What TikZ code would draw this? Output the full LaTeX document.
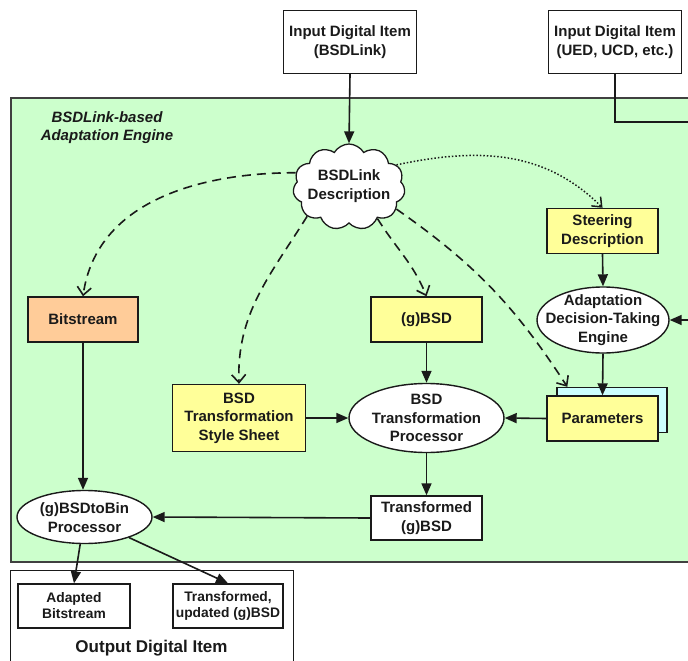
\documentclass[tikz,border=0pt]{standalone}
\usepackage{fontspec}
\setmainfont{Liberation Sans}
\usetikzlibrary{shapes.geometric,shapes.symbols,arrows.meta,calc}
\definecolor{engine}{HTML}{CCFFCC}
\definecolor{ylw}{HTML}{FFFF99}
\definecolor{orng}{HTML}{FFCC99}
\definecolor{cyn}{HTML}{CCFFFF}
\definecolor{ink}{HTML}{1A1A1A}
\definecolor{frame}{HTML}{404040}
\begin{document}
\begin{tikzpicture}[x=1pt,y=-1pt,
  font=\bfseries\fontsize{15}{18.5}\selectfont,
  box/.style={draw=ink, line width=1.4pt, rectangle, align=center, inner sep=0pt, text=ink},
  ybox/.style={box, fill=ylw},
  wbox/.style={box, fill=white},
  ell/.style={draw=ink, line width=1.4pt, ellipse, fill=white, inner sep=0pt},
  txt/.style={align=center, inner sep=0pt, text=ink},
  smalltxt/.style={font=\bfseries\fontsize{13.8}{16}\selectfont},
  arr/.style={line width=1.6pt, draw=ink, -{Triangle[length=12pt,width=10pt]}},
  darr/.style={line width=1.6pt, draw=ink, dash pattern=on 9pt off 6pt, -{Straight Barb[length=8pt,width=14pt]}},
  dotarr/.style={line width=1.5pt, draw=ink, dash pattern=on 1.5pt off 2pt, -{Straight Barb[length=8pt,width=13pt]}}
]
\useasboundingbox (0,0) rectangle (688,661);
\fill[white] (0,0) rectangle (688,661);
\clip (0,0) rectangle (688,661);

% containers
\node[draw=frame, line width=1.8pt, fill=engine, anchor=north west, minimum width=710, minimum height=464, inner sep=0pt] (engine) at (10,97) {};
\node[draw=ink, line width=1.4pt, fill=white, anchor=north west, minimum width=283, minimum height=120, inner sep=0pt] (outbox) at (10,570) {};

\node[txt, font=\bfseries\itshape\fontsize{15}{18.5}\selectfont] (title) at (107,127.5) {BSDLink-based\\Adaptation Engine};
\node[txt, font=\bfseries\fontsize{17}{20}\selectfont] (outlabel) at (151.5,648) {Output Digital Item};

% inputs
\node[wbox, minimum width=133, minimum height=63] (in1) at (350,42) {Input Digital Item\\(BSDLink)};
\node[wbox, minimum width=133, minimum height=63] (in2) at (615,42) {Input Digital Item\\(UED, UCD, etc.)};

% cloud
\node[cloud, cloud puffs=11, cloud puff arc=120, cloud ignores aspect, draw=ink, line width=1.3pt, fill=white, minimum width=112, minimum height=86, inner sep=0pt] (cloud) at (349,187) {};
\node[txt] (cloudt) at (349,186) {BSDLink\\Description};

% right column
\node[ybox, minimum width=111, minimum height=45] (steer) at (602.5,231) {Steering\\Description};
\node[ell, minimum width=132, minimum height=66] (adte) at (603,320) {};
\node[txt] (adtet) at (603,320) {Adaptation\\Decision-Taking\\Engine};
\node[box, fill=cyn, minimum width=110, minimum height=45] (pback) at (612,410) {};
\node[ybox, minimum width=111, minimum height=45] (params) at (602.5,418.5) {Parameters};

% middle
\node[box, fill=orng, minimum width=110, minimum height=45] (bits) at (83,319.5) {Bitstream};
\node[ybox, minimum width=111, minimum height=45] (gbsd) at (426.5,319.5) {(g)BSD};
\node[ybox, minimum width=133, minimum height=67] (style) at (239,418) {BSD\\Transformation\\Style Sheet};
\node[ell, minimum width=155, minimum height=69] (btp) at (426.5,418) {};
\node[txt] (btpt) at (426.5,418) {BSD\\Transformation\\Processor};

% lower
\node[wbox, minimum width=111, minimum height=44] (tgbsd) at (426.5,518) {Transformed\\(g)BSD};
\node[ell, minimum width=135, minimum height=53] (tobin) at (84.5,517) {};
\node[txt] (tobint) at (84.5,517.5) {(g)BSDtoBin\\Processor};
\node[wbox, smalltxt, minimum width=112, minimum height=44] (adapted) at (74,606) {Adapted\\Bitstream};
\node[wbox, smalltxt, minimum width=110, minimum height=44] (transupd) at (228,606) {Transformed,\\updated (g)BSD};

% helper coordinate for the UED line
\coordinate (c2) at (700,122);

% solid connectors
\draw[arr] (in1.south) -- (cloud.north);
\draw[arr] (in2.south) |- (c2) |- (adte.east);
\draw[arr] (steer.south) -- (adte.north);
\draw[arr] (adte.south) -- (params.north);
\draw[arr] (params.west) -- (btp.east);
\draw[arr] (style.east) -- (btp.west);
\draw[arr] (gbsd.south) -- (btp.north);
\draw[arr] (btp.south) -- (tgbsd.north);
\draw[arr] (tgbsd.west) -- (tobin.east);
\draw[arr] (bits.south) -- (bits.south |- tobin.north);
\draw[arr] (tobin) -- (adapted.north);
\draw[arr] (tobin) -- (transupd.north);

% dashed / dotted connectors from the description
\draw[darr] (cloud.165) to[out=180, in=82] (bits.north);
\draw[darr] (cloud.215) to[out=238, in=92] (style.north);
\draw[darr] (cloud.-48) to[out=-58, in=112] (gbsd.north);
\draw[darr] (cloud.-25) to[out=-35, in=123] ([xshift=11pt]pback.north west);
\draw[dotarr] (cloud.25) to[out=12, in=135] (steer.north);
\end{tikzpicture}
\end{document}
